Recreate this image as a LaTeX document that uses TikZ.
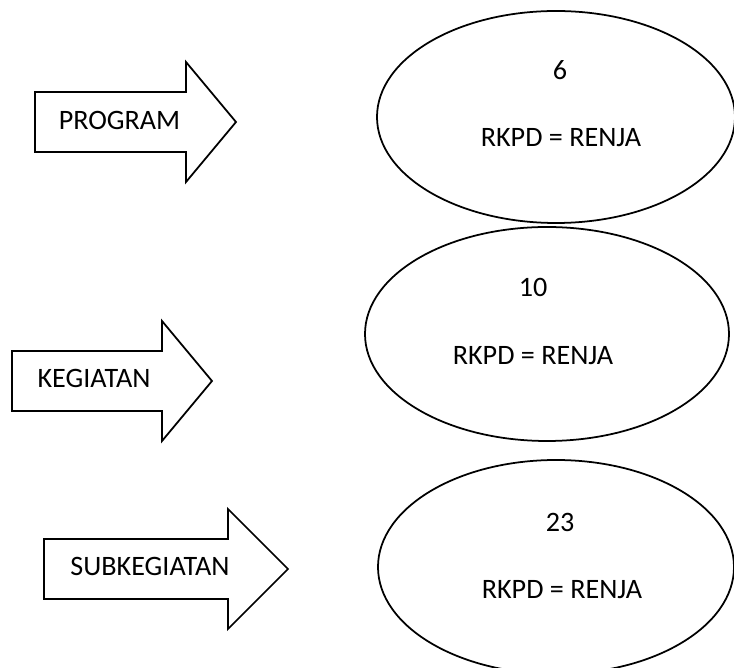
\documentclass[tikz,border=0pt]{standalone}
\usepackage{fontspec}
\setmainfont{Carlito}
\usepackage{tikz}
\tikzset{
  lbl/.style={inner sep=0pt,font=\fontsize{16}{19}\selectfont},
  shp/.style={draw,line width=1pt}
}

\begin{document}
\begin{tikzpicture}
  \useasboundingbox (0,0) rectangle (14.68,13.36);
  \clip (0,0) rectangle (14.68,13.36);
  % arrows on the left
  \draw[shp] (0.70,10.32) -- (3.72,10.32) -- (3.72,9.72) -- (4.72,10.92) -- (3.72,12.12) -- (3.72,11.52) -- (0.70,11.52) -- cycle;
  \node[lbl] (prog) at (2.39,10.95) {PROGRAM};
  \draw[shp] (0.24,5.14) -- (3.24,5.14) -- (3.24,4.54) -- (4.24,5.74) -- (3.24,6.94) -- (3.24,6.34) -- (0.24,6.34) -- cycle;
  \node[lbl] (keg) at (1.88,5.80) {KEGIATAN};
  \draw[shp] (0.88,1.38) -- (4.56,1.38) -- (4.56,0.78) -- (5.76,1.98) -- (4.56,3.18) -- (4.56,2.58) -- (0.88,2.58) -- cycle;
  \node[lbl] (subkeg) at (3.00,2.04) {SUBKEGIATAN};
  % ellipses on the right
  \draw[shp] (11.12,11.02) ellipse (3.58 and 2.12);
  \node[lbl] (n1) at (11.20,11.96) {6};
  \node[lbl] (r1) at (11.22,10.60) {RKPD = RENJA};
  \draw[shp] (10.94,6.68) ellipse (3.64 and 2.14);
  \node[lbl] (n2) at (10.66,7.62) {10};
  \node[lbl] (r2) at (10.66,6.24) {RKPD = RENJA};
  \draw[shp] (11.12,2.02) ellipse (3.56 and 2.14);
  \node[lbl] (n3) at (11.20,2.92) {23};
  \node[lbl] (r3) at (11.24,1.56) {RKPD = RENJA};
\end{tikzpicture}
\end{document}
